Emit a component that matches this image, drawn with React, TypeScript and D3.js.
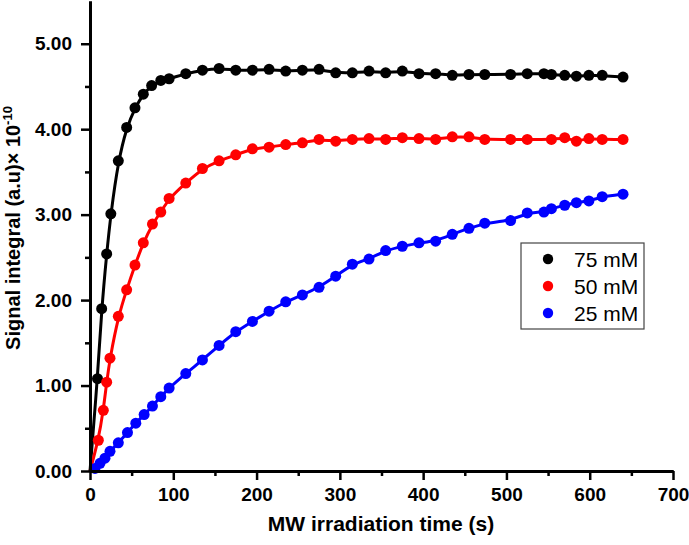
import { useEffect, useRef } from 'react';
import * as d3 from 'd3';

// 75 mM
const timeA = [9, 14, 20, 25, 34, 44, 54, 64, 74, 85, 95, 115, 135, 155, 175, 195, 215, 235, 255, 275, 295, 315, 335, 355, 375, 395, 415, 435, 455, 474, 505, 525, 545, 554, 570, 584, 599, 615, 640];
const signalA = [1.08, 1.90, 2.54, 3.01, 3.63, 4.02, 4.25, 4.41, 4.51, 4.57, 4.59, 4.65, 4.69, 4.71, 4.69, 4.69, 4.70, 4.68, 4.69, 4.70, 4.66, 4.66, 4.68, 4.66, 4.68, 4.65, 4.65, 4.63, 4.64, 4.64, 4.64, 4.65, 4.65, 4.64, 4.63, 4.62, 4.63, 4.63, 4.61];

// 50 mM
const timeB = [10, 16, 20, 24, 34, 44, 54, 64, 75, 85, 95, 115, 135, 155, 175, 195, 215, 235, 255, 275, 295, 315, 335, 355, 375, 395, 415, 435, 455, 474, 505, 525, 554, 570, 584, 599, 615, 640];
const signalB = [0.36, 0.71, 1.04, 1.32, 1.81, 2.12, 2.41, 2.67, 2.89, 3.03, 3.19, 3.37, 3.54, 3.63, 3.70, 3.77, 3.79, 3.82, 3.84, 3.88, 3.86, 3.88, 3.89, 3.88, 3.90, 3.89, 3.88, 3.91, 3.91, 3.88, 3.88, 3.88, 3.88, 3.90, 3.86, 3.89, 3.88, 3.88];

// 25 mM
const timeC = [6, 12, 18, 24, 34, 45, 55, 65, 75, 85, 95, 115, 135, 155, 175, 195, 215, 235, 255, 275, 295, 315, 335, 355, 375, 395, 415, 435, 455, 474, 505, 525, 545, 554, 570, 584, 599, 615, 640];
const signalC = [0.03, 0.09, 0.15, 0.23, 0.33, 0.45, 0.56, 0.66, 0.76, 0.87, 0.97, 1.14, 1.30, 1.47, 1.63, 1.75, 1.87, 1.98, 2.06, 2.15, 2.28, 2.42, 2.48, 2.58, 2.63, 2.67, 2.69, 2.77, 2.84, 2.90, 2.93, 3.02, 3.03, 3.07, 3.11, 3.14, 3.16, 3.21, 3.24];

const seriesNames = ['75 mM', '50 mM', '25 mM'];
const seriesColors = ['#000000', '#ff0000', '#0000ff'];

const xTicks = [0, 100, 200, 300, 400, 500, 600, 700];
const yTicks = [0, 1, 2, 3, 4, 5];

const FONT = '"Liberation Sans", Arial, sans-serif';

export default function App() {
  const svgRef = useRef<SVGSVGElement>(null);
  const width = 689;
  const height = 545;

  useEffect(() => {
    if (!svgRef.current) return;
    const svg = d3.select(svgRef.current);
    svg.selectAll('*').remove();

    const x = d3.scaleLinear().domain([0, 700]).range([90, 673]);
    const y = d3.scaleLinear().domain([0, 5.5]).range([471, 1]);

    const series = [
      { name: seriesNames[0], color: seriesColors[0], t: timeA, v: signalA },
      { name: seriesNames[1], color: seriesColors[1], t: timeB, v: signalB },
      { name: seriesNames[2], color: seriesColors[2], t: timeC, v: signalC },
    ].map(s => ({ ...s, pts: s.t.map((t, i) => ({ t, v: s.v[i] })) }));

    const line = d3.line<{ t: number; v: number }>()
      .x(d => x(d.t))
      .y(d => y(d.v))
      .curve(d3.curveBasis);

    // curves (start from origin like the fit)
    series.forEach(s => {
      svg.append('path')
        .attr('d', line([{ t: 0, v: 0 }, ...s.pts]))
        .attr('fill', 'none')
        .attr('stroke', s.color)
        .attr('stroke-width', 3);
    });

    // markers
    series.forEach(s => {
      svg.append('g')
        .selectAll('circle')
        .data(s.pts)
        .enter()
        .append('circle')
        .attr('cx', d => x(d.t))
        .attr('cy', d => y(d.v))
        .attr('r', 5.5)
        .attr('fill', s.color);
    });

    // X axis
    const xMinor = d3.range(50, 700, 100);
    svg.append('g')
      .attr('transform', `translate(0, ${y(0)})`)
      .call(d3.axisBottom(x).tickValues(xMinor).tickSize(5).tickSizeOuter(0).tickFormat(() => ''));
    const xAxis = svg.append('g')
      .attr('transform', `translate(0, ${y(0)})`)
      .call(d3.axisBottom(x).tickValues(xTicks).tickSize(9).tickSizeOuter(0).tickPadding(8).tickFormat(d => `${d}`));
    xAxis.selectAll('text')
      .attr('font-family', FONT)
      .attr('font-weight', 'bold')
      .attr('font-size', 19)
      .attr('fill', '#000');

    // Y axis
    const yMinor = d3.range(0.5, 5.5, 1);
    svg.append('g')
      .attr('transform', `translate(${x(0)}, 0)`)
      .call(d3.axisLeft(y).tickValues(yMinor).tickSize(5).tickSizeOuter(0).tickFormat(() => ''));
    const yAxis = svg.append('g')
      .attr('transform', `translate(${x(0)}, 0)`)
      .call(d3.axisLeft(y).tickValues(yTicks).tickSize(9).tickSizeOuter(0).tickPadding(9).tickFormat(d => (+d).toFixed(2)));
    yAxis.selectAll('text')
      .attr('font-family', FONT)
      .attr('font-weight', 'bold')
      .attr('font-size', 19)
      .attr('fill', '#000');

    svg.selectAll('.domain').attr('stroke', '#000').attr('stroke-width', 3);
    svg.selectAll('.tick line').attr('stroke', '#000').attr('stroke-width', 2.5);

    // axis titles
    svg.append('text')
      .attr('x', 381)
      .attr('y', 531)
      .attr('text-anchor', 'middle')
      .attr('font-family', FONT)
      .attr('font-weight', 'bold')
      .attr('font-size', 21)
      .text('MW irradiation time (s)');

    const yTitle = svg.append('text')
      .attr('transform', 'translate(20, 228) rotate(-90)')
      .attr('text-anchor', 'middle')
      .attr('font-family', FONT)
      .attr('font-weight', 'bold')
      .attr('font-size', 20);
    yTitle.append('tspan').text('Signal integral (a.u)× 10');
    yTitle.append('tspan').attr('dy', -8).attr('font-size', 13).text('-10');

    // legend
    const legend = svg.append('g').attr('transform', 'translate(521, 243)');
    legend.append('rect')
      .attr('width', 123)
      .attr('height', 86)
      .attr('fill', '#fff')
      .attr('stroke', '#444')
      .attr('stroke-width', 1.2);
    series.forEach((s, i) => {
      const row = legend.append('g').attr('transform', `translate(0, ${16 + i * 27})`);
      row.append('circle').attr('cx', 27).attr('cy', 0).attr('r', 5.2).attr('fill', s.color);
      row.append('text')
        .attr('x', 53)
        .attr('y', 0)
        .attr('dy', '0.36em')
        .attr('font-family', FONT)
        .attr('font-size', 21)
        .attr('fill', '#000')
        .text(s.name);
    });
  }, []);

  return (
    <svg
      ref={svgRef}
      width={width}
      height={height}
      style={{ position: 'absolute', left: 0, top: 0, background: '#fff' }}
    />
  );
}
